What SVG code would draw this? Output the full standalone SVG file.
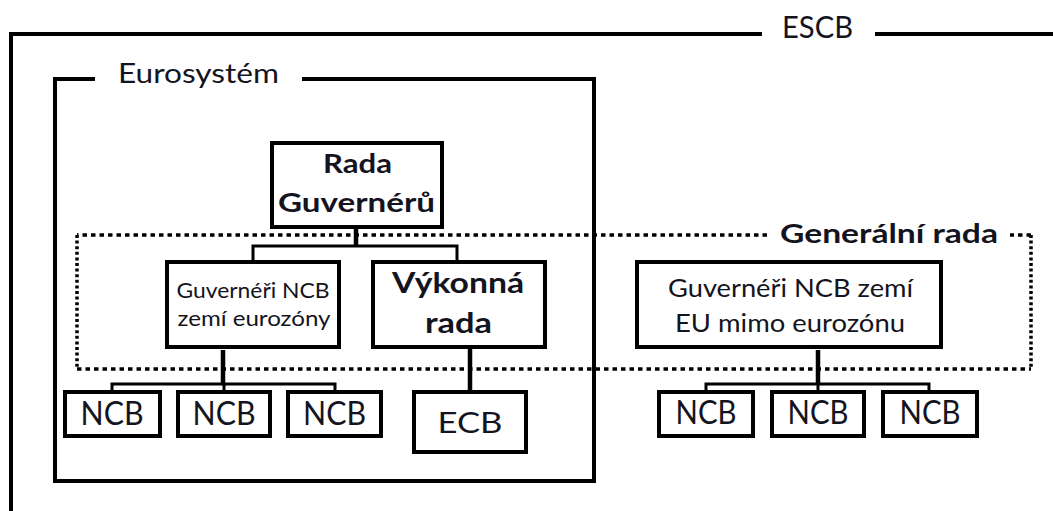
<svg xmlns="http://www.w3.org/2000/svg" width="1053" height="511" viewBox="0 0 1053 511">
<style>
.frame{fill:none;stroke:#000;stroke-width:4}
.dotH{fill:none;stroke:#000;stroke-width:3.5;stroke-dasharray:4.5 4}
.dotV{fill:none;stroke:#000;stroke-width:3.5;stroke-dasharray:3 2.6}
.box{fill:#fff;stroke:#000;stroke-width:4}
.conn{fill:none;stroke:#000;stroke-width:3}
.stem{fill:none;stroke:#000;stroke-width:4.5}
text{font-family:Lato,"Open Sans","Liberation Sans",sans-serif;fill:#141420;text-anchor:middle}
.b{font-weight:bold}
</style>
<rect width="1053" height="511" fill="#fff"/>
<g id="escb">
<path class="frame" d="M762 34 H11 V511 M875 34 H1053"/>
<text x="817.5" y="38" font-size="30" textLength="71" lengthAdjust="spacingAndGlyphs">ESCB</text>
</g>
<g id="eurosystem">
<path class="frame" d="M95 79 H55 V481 H594 V79 H302"/>
<text x="198.5" y="83" font-size="26" textLength="161" lengthAdjust="spacingAndGlyphs">Eurosystém</text>
</g>
<g id="generalni-rada">
<path class="dotH" d="M767 235 H77 M77 369 H1031 M1031 235 H1010"/>
<path class="dotV" d="M77 235 V369 M1031 235 V369"/>
<text class="b" x="889" y="243" font-size="27" textLength="218" lengthAdjust="spacingAndGlyphs">Generální rada</text>
</g>
<g id="connectors">
<path class="stem" d="M356 227 V246"/>
<path class="conn" d="M253 264 V246 H457 V264"/>
<path class="stem" d="M223 350 V384"/>
<path class="conn" d="M112 393 V384 H335 V393 M224 384 V393"/>
<path class="stem" d="M470 347 V394"/>
<path class="stem" d="M818 350 V384"/>
<path class="conn" d="M706 393 V384 H929 V393 M818 384 V393"/>
</g>
<g id="rada-guverneru">
<rect class="box" x="272" y="143" width="170" height="84"/>
<text class="b" x="357.5" y="173" font-size="26" textLength="69" lengthAdjust="spacingAndGlyphs">Rada</text>
<text class="b" x="356.5" y="212" font-size="27" textLength="157" lengthAdjust="spacingAndGlyphs">Guvernérů</text>
</g>
<g id="guv-eurozona">
<rect class="box" x="167" y="262" width="172" height="85"/>
<text x="253" y="298" font-size="21" textLength="153" lengthAdjust="spacingAndGlyphs">Guvernéři NCB</text>
<text x="254" y="326" font-size="21" textLength="153" lengthAdjust="spacingAndGlyphs">zemí eurozóny</text>
</g>
<g id="vykonna-rada">
<rect class="box" x="373" y="262" width="172" height="85"/>
<text class="b" x="458" y="293" font-size="29" textLength="132" lengthAdjust="spacingAndGlyphs">Výkonná</text>
<text class="b" x="458.5" y="333" font-size="29" textLength="67" lengthAdjust="spacingAndGlyphs">rada</text>
</g>
<g id="guv-mimo">
<rect class="box" x="637" y="262" width="304" height="85"/>
<text x="790.5" y="297" font-size="25" textLength="245" lengthAdjust="spacingAndGlyphs">Guvernéři NCB zemí</text>
<text x="790" y="332" font-size="25" textLength="230" lengthAdjust="spacingAndGlyphs">EU mimo eurozónu</text>
</g>
<g id="ncb1"><rect class="box" x="65" y="392" width="95" height="44"/><text x="112" y="425" font-size="32" textLength="63" lengthAdjust="spacingAndGlyphs">NCB</text></g>
<g id="ncb2"><rect class="box" x="178" y="392" width="92" height="44"/><text x="224" y="425" font-size="32" textLength="63" lengthAdjust="spacingAndGlyphs">NCB</text></g>
<g id="ncb3"><rect class="box" x="288" y="392" width="93" height="44"/><text x="334.5" y="425" font-size="32" textLength="63" lengthAdjust="spacingAndGlyphs">NCB</text></g>
<g id="ecb"><rect class="box" x="414" y="392" width="112" height="60"/><text x="470" y="433" font-size="29" textLength="65" lengthAdjust="spacingAndGlyphs">ECB</text></g>
<g id="ncb4"><rect class="box" x="659" y="392" width="94" height="44"/><text x="706" y="424" font-size="32" textLength="61" lengthAdjust="spacingAndGlyphs">NCB</text></g>
<g id="ncb5"><rect class="box" x="772" y="392" width="92" height="44"/><text x="818" y="424" font-size="32" textLength="61" lengthAdjust="spacingAndGlyphs">NCB</text></g>
<g id="ncb6"><rect class="box" x="883" y="392" width="94" height="44"/><text x="930" y="424" font-size="32" textLength="61" lengthAdjust="spacingAndGlyphs">NCB</text></g>
</svg>
